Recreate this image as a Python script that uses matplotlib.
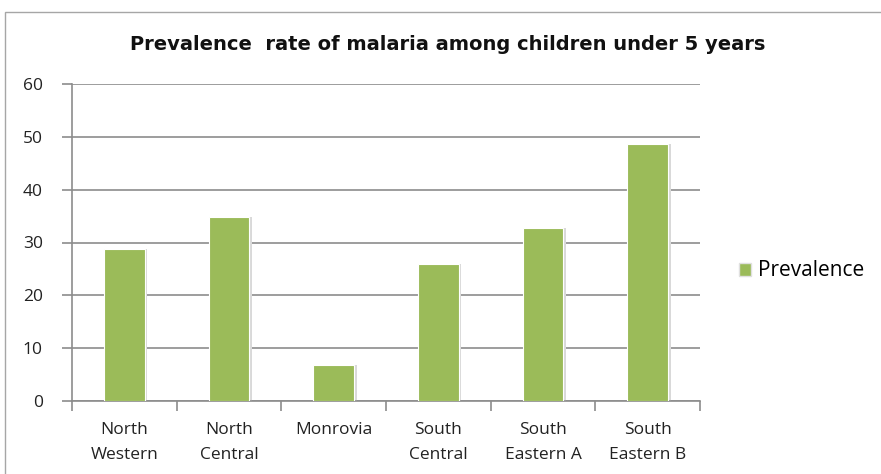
import matplotlib
matplotlib.use("Agg")
import matplotlib.pyplot as plt
from matplotlib.patches import Rectangle, Patch

regions = ["North\nWestern", "North\nCentral", "Monrovia", "South\nCentral",
           "South\nEastern A", "South\nEastern B"]
prevalence = [28.7, 34.8, 6.8, 25.9, 32.7, 48.7]
y_ticks = [0, 10, 20, 30, 40, 50, 60]

bar_color = "#9BBB59"
grid_color = "#8c8c8c"
font = ["Open Sans", "DejaVu Sans"]

fig = plt.figure(figsize=(8.81, 4.74), dpi=100)
fig.patch.set_facecolor("white")

# chart frame
fig.add_artist(Rectangle((5 / 881, -0.05), 1.0, 1 - 12 / 474 + 0.05,
                         transform=fig.transFigure, fill=False,
                         edgecolor="#a6a6a6", linewidth=1.0))

ax = fig.add_axes([72 / 881, 1 - 401 / 474, (700 - 72) / 881, (401 - 84) / 474])
x = list(range(len(regions)))
# soft shadow behind the bars
ax.bar([i + 0.025 for i in x], prevalence, width=0.39, color="#d9d9d9",
       linewidth=0, zorder=2)
ax.bar(x, prevalence, width=0.39, color=bar_color, edgecolor="white",
       linewidth=0.8, zorder=3)

ax.set_xlim(-0.5, len(regions) - 0.5)
ax.set_ylim(0, 60)
ax.set_yticks(y_ticks)
ax.yaxis.grid(True, color=grid_color, linewidth=1.2, zorder=0)
ax.set_axisbelow(True)

ax.set_xticks([i - 0.5 for i in range(len(regions) + 1)], minor=False)
ax.set_xticklabels([])
ax.set_xticks(x, minor=True)
ax.set_xticklabels(regions, minor=True, fontsize=12.5, family=font,
                   color="#222222", linespacing=1.75)
ax.tick_params(axis="x", which="major", length=7, color=grid_color, width=1.2)
ax.tick_params(axis="x", which="minor", length=0, pad=15)
ax.tick_params(axis="y", length=7, color=grid_color, width=1.2, pad=14,
               labelsize=12.5, labelcolor="#222222")
for lbl in ax.get_yticklabels():
    lbl.set_family(font)

for side in ("top", "right"):
    ax.spines[side].set_visible(False)
for side in ("left", "bottom"):
    ax.spines[side].set_color(grid_color)
    ax.spines[side].set_linewidth(1.2)

fig.text(448 / 881, 1 - 44 / 474, "Prevalence  rate of malaria among children under 5 years",
         ha="center", va="center", fontsize=14, fontweight="bold",
         family=["Liberation Sans Narrow", "DejaVu Sans"], color="#111111")

fig.legend(handles=[Patch(facecolor=bar_color, edgecolor="#e0e0e0")],
           labels=["Prevalence"], loc="center left",
           bbox_to_anchor=(720 / 881, 1 - 271 / 474), frameon=False,
           prop={"family": font, "size": 15}, handlelength=0.6,
           handleheight=0.6, handletextpad=0.3)

fig.savefig("out.png", dpi=100, facecolor="white")
